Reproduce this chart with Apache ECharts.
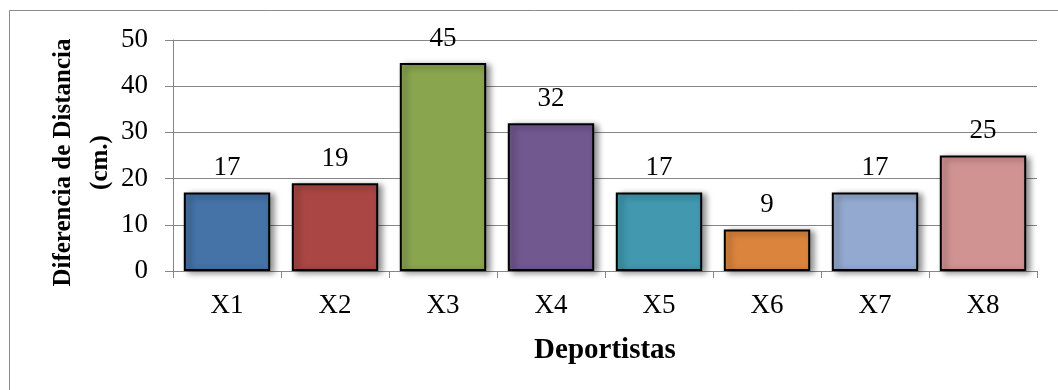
<!DOCTYPE html>
<html><head><meta charset="utf-8">
<script src="https://cdn.jsdelivr.net/npm/echarts@6/dist/echarts.min.js"></script>
<style>html,body{margin:0;padding:0;background:#fff}#c{width:1058px;height:390px}</style>
</head><body><div id="c"></div>
<script>
const categories = ['X1','X2','X3','X4','X5','X6','X7','X8'];
const values = [17, 19, 45, 32, 17, 9, 17, 25];
const colors = ['#4572A7','#AA4643','#89A54E','#71588F','#4198AF','#DB843D','#93A9CF','#D19392'];
const yTicks = { min: 0, max: 50, interval: 10 };
const yTitle = 'Diferencia de Distancia\n(cm.)';
const xTitle = 'Deportistas';
const FONT = '"Liberation Serif", "Times New Roman", serif';
const chart = echarts.init(document.getElementById('c'));
chart.setOption({
  animation: false,
  backgroundColor: '#fff',
  grid: { left: 173, right: 21, top: 40, bottom: 119, containLabel: false },
  graphic: [{ type: 'rect', shape: { x: 9.5, y: 10.5, width: 1200, height: 600 },
    style: { fill: 'none', stroke: '#8c8c8c', lineWidth: 1 }, silent: true }],
  xAxis: {
    type: 'category', data: categories,
    axisLine: { lineStyle: { color: '#868686', width: 1 } },
    axisTick: { show: true, length: 7, lineStyle: { color: '#868686' } },
    axisLabel: { color: '#000', fontFamily: FONT, fontSize: 27, margin: 21 },
    name: xTitle, nameLocation: 'middle', nameGap: 65, nameMoveOverlap: false,
    nameTextStyle: { color: '#000', fontFamily: FONT, fontSize: 29, fontWeight: 'bold' }
  },
  yAxis: {
    type: 'value', min: yTicks.min, max: yTicks.max, interval: yTicks.interval,
    axisLine: { show: true, lineStyle: { color: '#868686', width: 1 } },
    axisTick: { show: true, length: 8, lineStyle: { color: '#868686' } },
    splitLine: { lineStyle: { color: '#868686', width: 1 } },
    axisLabel: { color: '#000', fontFamily: FONT, fontSize: 27, margin: 25 },
    name: yTitle, nameLocation: 'middle', nameGap: 54, nameRotate: 90, nameMoveOverlap: false,
    nameTextStyle: { color: '#000', fontFamily: FONT, fontSize: 25, fontWeight: 'bold', lineHeight: 37, align: 'center', padding: [0, 14, 0, 0] }
  },
  series: [{
    type: 'bar', data: values.map((v, i) => ({ value: v, itemStyle: { color: colors[i] } })),
    barCategoryGap: '20%',
    itemStyle: { borderColor: '#000', borderWidth: 2, shadowColor: 'rgba(0,0,0,0.45)', shadowBlur: 6, shadowOffsetX: 4, shadowOffsetY: 2 },
    label: { show: true, position: 'top', distance: 11, color: '#000', fontFamily: FONT, fontSize: 27 }
  }]
});
</script></body></html>
